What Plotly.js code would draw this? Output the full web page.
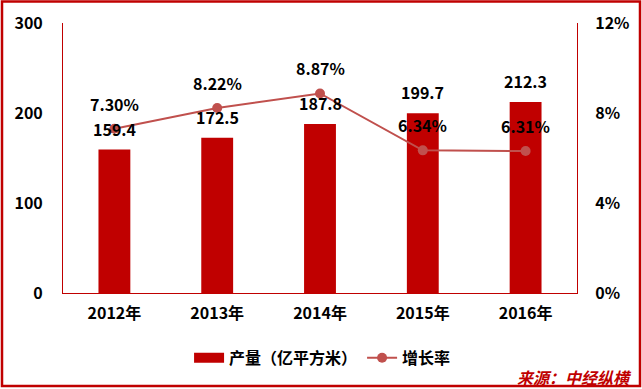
<!DOCTYPE html>
<html><head><meta charset="utf-8">
<script src="https://cdn.plot.ly/plotly-3.0.1.min.js"></script>
<style>
html,body{margin:0;padding:0;background:#fff}
#c{width:642px;height:389px}
</style>
</head><body><div id="c"></div>
<script>
const years = ['2012年','2013年','2014年','2015年','2016年'];
const output = [159.4, 172.5, 187.8, 199.7, 212.3];
const growth = [7.30, 8.22, 8.87, 6.34, 6.31];
const outputName = '产量（亿平方米）';
const growthName = '增长率';
const sourceText = '来源：中经纵横';
const leftTicks = [0, 100, 200, 300];
const rightTicks = [0, 4, 8, 12];

const FONT = '"Noto Sans CJK SC", "Noto Sans", sans-serif';
const barColor = '#C00000';
const lineColor = '#C0504D';

const traces = [
  {type:'bar', x:years, y:output, marker:{color:barColor}, width:0.31, showlegend:false, hoverinfo:'skip'},
  {type:'scatter', mode:'lines', x:[null], y:[null], name:outputName, line:{color:barColor, width:10}},
  {type:'scatter', mode:'lines+markers', x:years, y:growth, yaxis:'y2', name:growthName,
   line:{color:lineColor, width:2}, marker:{color:lineColor, size:10}}
];

const annotations = [];
years.forEach((yr,i)=>{
  annotations.push({x:yr, y:output[i], xref:'x', yref:'y', text:output[i].toFixed(1), showarrow:false,
    yshift:21, font:{family:FONT, size:16, color:'#000', weight:'bold'}});
  annotations.push({x:yr, y:growth[i], xref:'x', yref:'y2', text:growth[i].toFixed(2)+'%', showarrow:false,
    yshift:25, font:{family:FONT, size:16, color:'#000', weight:'bold'}});
});
annotations.push({xref:'paper', yref:'paper', x:1.11, y:-0.31, xanchor:'right', yanchor:'middle', showarrow:false,
  text:'<i><b>'+sourceText+'</b></i>', font:{family:FONT, size:16, color:'#C00000'}});

const layout = {
  width:642, height:389,
  margin:{l:63, r:65, t:23, b:96},
  paper_bgcolor:'#fff', plot_bgcolor:'rgba(0,0,0,0)',
  font:{family:FONT, size:16, color:'#000', weight:'bold'},
  xaxis:{type:'category', showgrid:false, zeroline:false, showline:true, linecolor:barColor, linewidth:1,
    ticks:'outside', ticklen:6, tickcolor:'rgba(0,0,0,0)', tickfont:{family:FONT, size:16, color:'#000', weight:'bold'},
    fixedrange:true},
  yaxis:{range:[0,300], tickvals:leftTicks, showgrid:false, zeroline:false, showline:true, linecolor:barColor, linewidth:1,
    ticks:'outside', ticklen:16, tickcolor:'rgba(0,0,0,0)', tickfont:{family:FONT, size:16, color:'#000', weight:'bold'}},
  yaxis2:{range:[0,12], tickvals:rightTicks, ticktext:rightTicks.map(v=>v+'%'), overlaying:'y', side:'right',
    showgrid:false, zeroline:false, showline:true, linecolor:barColor, linewidth:1,
    ticks:'outside', ticklen:14, tickcolor:'rgba(0,0,0,0)', tickfont:{family:FONT, size:16, color:'#000', weight:'bold'}},
  legend:{orientation:'h', x:0.505, xanchor:'center', y:-0.24, yanchor:'middle',
    font:{family:FONT, size:16, color:'#000', weight:'bold'}, itemwidth:30, tracegroupgap:0, bgcolor:'rgba(0,0,0,0)'},
  annotations:annotations,
  shapes:[{type:'rect', xref:'paper', yref:'paper', layer:'above',
    x0:-61/514, x1:577/514, y0:-93/270, y1:291.5/270, line:{color:barColor, width:2.5}}]
};
Plotly.newPlot('c', traces, layout, {displayModeBar:false, staticPlot:true});
</script></body></html>
